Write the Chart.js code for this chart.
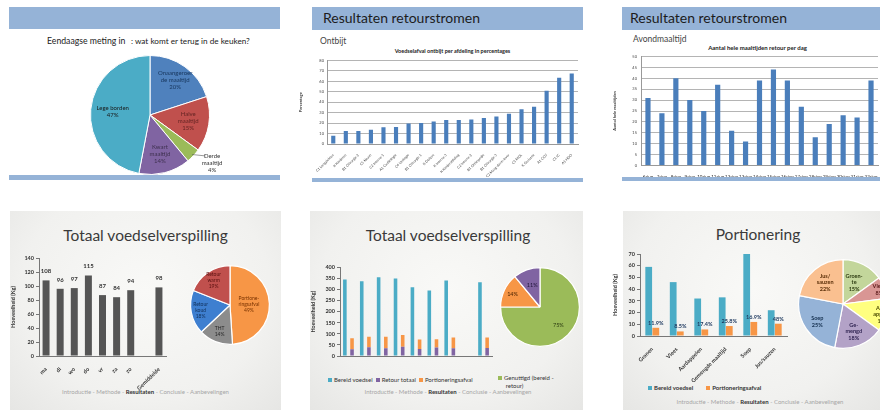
<!DOCTYPE html>
<html lang="nl">
<head>
<meta charset="utf-8">
<script src="https://cdn.jsdelivr.net/npm/chart.js@4.4.1/dist/chart.umd.min.js"></script>
<style>
  html, body { margin: 0; padding: 0; background: #fff; }
  body { width: 880px; height: 410px; position: relative; overflow: hidden; font-family: Lato, "Open Sans", sans-serif; color: #333; }
  canvas { position: absolute; }
  .band { position: absolute; background: #95b3d7; z-index: 2; }
  .slide { position: absolute; background: radial-gradient(ellipse at 50% 40%, #f9f9f7 0%, #f1f1ef 65%, #e6e6e4 100%); }
  .t { position: absolute; white-space: pre; line-height: 1; }
  .c { text-align: center; }
  .head { font-size: 14px; color: #1c1c1c; z-index: 3; }
  .big { font-size: 15.5px; color: #3a3a3a; line-height: 20px; }
  .foot { font-size: 6px; color: #a6a6a6; }
  .foot b { color: #333; }
  .lg { font-size: 6px; color: #333; }
  .sq { display: inline-block; width: 4px; height: 4px; margin-right: 2px; vertical-align: 0; }
</style>
</head>
<body>

<!-- bovenste rij -->
<div class="band" style="left:9px;top:7px;width:271px;height:22px"></div>
<div class="band" style="left:9px;top:175px;width:271px;height:5px"></div>
<div class="t" style="left:47px;top:37px;font-size:8.7px;color:#222">Eendaagse meting in</div>
<div class="t" style="left:131px;top:37px;font-size:8.2px;color:#222">: wat komt er terug in de keuken?</div>

<div class="band" style="left:312px;top:7px;width:271px;height:23px"></div>
<div class="band" style="left:312px;top:178px;width:271px;height:4px"></div>
<div class="t head" style="left:323px;top:11px">Resultaten retourstromen</div>
<div class="t" style="left:320px;top:37px;font-size:8.5px;color:#444">Ontbijt</div>
<div class="t c" style="left:330px;top:49px;width:245px;font-size:5.5px;font-weight:bold;color:#222">Voedselafval ontbijt per afdeling in percentages</div>

<div class="band" style="left:622px;top:7px;width:258px;height:23px"></div>
<div class="band" style="left:622px;top:177px;width:258px;height:4px"></div>
<div class="t head" style="left:630px;top:11px">Resultaten retourstromen</div>
<div class="t" style="left:633px;top:35px;font-size:8.5px;color:#444">Avondmaaltijd</div>
<div class="t c" style="left:680px;top:45px;width:155px;font-size:6px;font-weight:bold;color:#222">Aantal hele maaltijden retour per dag</div>

<!-- onderste rij -->
<div class="slide" style="left:10px;top:211px;width:271px;height:199px"></div>
<div class="slide" style="left:310px;top:211px;width:273px;height:199px"></div>
<div class="slide" style="left:623px;top:211px;width:257px;height:199px"></div>

<div class="t c big" style="left:10px;top:225px;width:271px">Totaal voedselverspilling</div>
<div class="t c big" style="left:312px;top:225px;width:272px">Totaal voedselverspilling</div>
<div class="t c big" style="left:623px;top:224px;width:270px">Portionering</div>

<div class="t c foot" style="left:10px;top:389px;width:271px">Introductie - Methode - <b>Resultaten</b> - Conclusie - Aanbevelingen</div>
<div class="t c foot" style="left:312px;top:389px;width:272px">Introductie - Methode - <b>Resultaten</b> - Conclusie - Aanbevelingen</div>
<div class="t c foot" style="left:623px;top:399px;width:274px">Introductie - Methode - <b>Resultaten</b> - Conclusie - Aanbevelingen</div>

<div class="t lg" style="left:328px;top:377px"><span class="sq" style="background:#4bacc6"></span>Bereid voedsel  <span class="sq" style="background:#8064a2"></span>Retour totaal  <span class="sq" style="background:#f79646"></span>Portioneringsafval</div>
<div class="t lg" style="left:498px;top:374px;line-height:8px"><span class="sq" style="background:#9bbb59"></span>Genuttigd (bereid -
     retour)</div>
<div class="t lg" style="left:648px;top:385px;font-weight:bold"><span class="sq" style="background:#4bacc6"></span>Bereid voedsel         <span class="sq" style="background:#f79646"></span>Portioneringsafval</div>

<canvas id="mealPie" width="170" height="130" style="left:70px;top:45px"></canvas>
<canvas id="breakfast" width="284" height="122" style="left:298px;top:55px"></canvas>
<canvas id="dinner" width="270" height="129" style="left:612px;top:50px"></canvas>
<canvas id="totalBars" width="162" height="145" style="left:10px;top:250px"></canvas>
<canvas id="totalPie" width="84" height="84" style="left:188px;top:263px"></canvas>
<canvas id="flowBars" width="186" height="106" style="left:310px;top:262px"></canvas>
<canvas id="flowPie" width="84" height="84" style="left:498px;top:265px"></canvas>
<canvas id="portionBars" width="180" height="140" style="left:612px;top:248px"></canvas>
<canvas id="portionPie" width="94" height="94" style="left:796px;top:257px"></canvas>

<script>
// Eendaagse meting: wat komt terug in de keuken (%)
const mealLabels = ['Onaangeroerde maaltijd', 'Halve maaltijd', 'Derde maaltijd', 'Kwart maaltijd', 'Lege borden'];
const mealShares = [20, 15, 4, 14, 47];

// Ontbijt: voedselafval per afdeling (%)
const wardLabels = ['C1 Longziekten', 'K Kinderen', 'B1 Chirurgie 2', 'C5 Neuro', 'C2 Interne 1', 'A1 Cardiologie',
  'C4 Urologie', 'B1 Chirurgie 1', 'K Dialyse', 'K Interne 3', 'K Kinderafdeling', 'C2 Interne 2',
  'B1 Orthopedie', 'B1 Chirurgie 3', 'C2 Maag-darm-lever', 'C1 MDL', 'K Geriatrie', 'A1 CCU', 'C1 IC', 'A1 HDO'];
const breakfastWaste = [8, 12.5, 12.5, 13.7, 16, 16.3, 19.5, 20, 21.6, 23, 23, 23.5, 24.8, 26.3, 29, 33.3, 35.6, 51, 63.5, 67.5];
const breakfastTicks = { min: 0, max: 80, step: 10 };

// Avondmaaltijd: hele maaltijden retour per dag
const dayLabels = ['6-jun', '7-jun', '8-jun', '9-jun', '10-jun', '11-jun', '12-jun', '13-jun', '14-jun',
  '15-jun', '16-jun', '17-jun', '18-jun', '19-jun', '20-jun', '21-jun', '22-jun'];
const wholeMeals = [31, 24, 40, 30, 25, 37, 16, 11, 39, 44, 39, 27, 13, 19, 23, 22, 39];
const dinnerTicks = { min: 0, max: 50, step: 5 };

// Totaal voedselverspilling per dag (kg)
const weekLabels = ['ma', 'di', 'wo', 'do', 'vr', 'za', 'zo', '', 'Gemiddelde'];
const totalWaste = [108, 96, 97, 115, 87, 84, 94, null, 98];
const wasteTypes = ['Portioneringsafval', 'THT', 'Retour koud', 'Retour warm'];
const wasteTypeShares = [49, 14, 18, 19];

// Bereid voedsel, retour en portioneringsafval (kg)
const flowLabels = ['ma', 'di', 'wo', 'do', 'vr', 'za', 'zo', '', 'gem.'];
const prepared = [345, 337, 355, 350, 310, 295, 340, null, 333];
const returned = [30, 40, 35, 42, 32, 38, 35, null, 36];
const portionWaste = [50, 47, 52, 53, 42, 37, 48, null, 47];
const usageLabels = ['Genuttigd (bereid - retour)', 'Portioneringsafval', 'Retour totaal'];
const usageShares = [75, 14, 11];

// Portionering per productgroep (kg)
const groupLabels = ['Granen', 'Vlees', 'Aardappelen', 'Gemengde maaltijd', 'Soep', 'Jus/sauzen'];
const groupPrepared = [59, 46, 32, 33, 71, 22];
const groupPortionWaste = [7, 3.9, 5.6, 8.5, 12, 10.5];
const groupWastePct = ['11.9%', '8.5%', '17.4%', '25.8%', '16.9%', '48%'];
const groupPieLabels = ['Groente', 'Vlees', 'Aardappelen', 'Gemengd', 'Soep', 'Jus/sauzen'];
const groupPieShares = [15, 8, 12, 18, 25, 22];

Chart.defaults.font.family = 'Lato, "Open Sans", sans-serif';
Chart.defaults.color = '#333';
Chart.defaults.animation = false;
Chart.defaults.responsive = false;
Chart.defaults.maintainAspectRatio = false;
Chart.defaults.plugins.legend.display = false;
Chart.defaults.plugins.tooltip.enabled = false;

// tekst in (of naast) de taartpunten
function sliceText(cfg) {
  return {
    id: 'sliceText',
    afterDatasetsDraw(chart) {
      const ctx = chart.ctx;
      const values = chart.data.datasets[0].data;
      ctx.save();
      ctx.font = cfg.font;
      ctx.textAlign = 'center';
      ctx.textBaseline = 'middle';
      chart.getDatasetMeta(0).data.forEach((arc, i) => {
        const p = arc.getProps(['x', 'y', 'startAngle', 'endAngle', 'outerRadius'], true);
        const mid = (p.startAngle + p.endAngle) / 2;
        const r = p.outerRadius * cfg.radius[i];
        const shift = (cfg.shift && cfg.shift[i]) || [0, 0];
        const cx = p.x + Math.cos(mid) * r + shift[0];
        const cy = p.y + Math.sin(mid) * r + shift[1];
        const lines = cfg.lines[i].concat(values[i] + '%');
        if (cfg.leader && cfg.leader[i]) {
          ctx.strokeStyle = '#555';
          ctx.lineWidth = 0.6;
          ctx.beginPath();
          ctx.moveTo(p.x + Math.cos(mid) * p.outerRadius * 0.97, p.y + Math.sin(mid) * p.outerRadius * 0.97);
          ctx.lineTo(cx - 7, cy - 7);
          ctx.stroke();
        }
        ctx.fillStyle = cfg.colors[i];
        lines.forEach((t, k) => ctx.fillText(t, cx, cy + (k - (lines.length - 1) / 2) * cfg.lineHeight));
      });
      ctx.restore();
    }
  };
}

// waardelabels boven de staven
function barText(dsIndex, texts, font, color, dy) {
  return {
    id: 'barText',
    afterDatasetsDraw(chart) {
      const ctx = chart.ctx;
      ctx.save();
      ctx.font = font;
      ctx.fillStyle = color;
      ctx.textAlign = 'center';
      ctx.textBaseline = 'bottom';
      chart.getDatasetMeta(dsIndex).data.forEach((bar, i) => {
        if (texts[i] == null) return;
        ctx.fillText(texts[i], bar.x, bar.y + dy);
      });
      ctx.restore();
    }
  };
}

const width = w => s => { s.width = w; };
const height = h => s => { s.height = h; };

new Chart(document.getElementById('mealPie'), {
  type: 'pie',
  data: {
    labels: mealLabels,
    datasets: [{
      data: mealShares,
      backgroundColor: ['#4f81bd', '#c0504d', '#9bbb59', '#8064a2', '#4bacc6'],
      borderColor: '#fff',
      borderWidth: 1
    }]
  },
  options: { layout: { padding: { left: 20, right: 30, top: 10, bottom: 0 } } },
  plugins: [sliceText({
    font: '6px Lato, sans-serif',
    lineHeight: 7,
    lines: [['Onaangeroer', 'de maaltijd'], ['Halve', 'maaltijd'], ['Derde', 'maaltijd'], ['Kwart', 'maaltijd'], ['Lege borden']],
    colors: ['#17365d', '#632423', '#333', '#3f3151', '#1a1a1a'],
    radius: [0.72, 0.65, 1.2, 0.67, 0.63],
    shift: [null, null, [10, -1], null, null],
    leader: [false, false, true, false, false]
  })]
});

new Chart(document.getElementById('breakfast'), {
  type: 'bar',
  data: {
    labels: wardLabels,
    datasets: [{ data: breakfastWaste, backgroundColor: '#4a7ebb', barPercentage: 0.55, categoryPercentage: 0.6 }]
  },
  options: {
    layout: { padding: { top: 5, right: 4 } },
    scales: {
      x: {
        afterFit: height(33),
        grid: { display: false },
        border: { color: '#999' },
        ticks: { autoSkip: false, minRotation: 45, maxRotation: 45, padding: 1, font: { size: 3.5 }, color: '#444' }
      },
      y: {
        min: breakfastTicks.min, max: breakfastTicks.max,
        afterFit: width(29),
        grid: { color: '#b4b4b4', drawTicks: false },
        border: { color: '#999' },
        ticks: { stepSize: breakfastTicks.step, padding: 3, font: { size: 4 }, color: '#444' },
        title: { display: true, text: 'Percentage', font: { size: 4, weight: 'bold' }, padding: 0 }
      }
    }
  }
});

// dagen staan horizontaal, de as krijgt zijn natuurlijke hoogte
new Chart(document.getElementById('dinner'), {
  type: 'bar',
  data: {
    labels: dayLabels,
    datasets: [{ data: wholeMeals, backgroundColor: '#4a7ebb', barPercentage: 0.6, categoryPercentage: 0.62 }]
  },
  options: {
    layout: { padding: { top: 6, right: 4 } },
    scales: {
      x: {
        grid: { display: false },
        border: { color: '#999' },
        ticks: { autoSkip: false, maxRotation: 0, padding: 0, font: { size: 4.5 }, color: '#222' }
      },
      y: {
        min: dinnerTicks.min, max: dinnerTicks.max,
        afterFit: width(29),
        grid: { color: '#b4b4b4', drawTicks: false },
        border: { color: '#999' },
        ticks: { stepSize: dinnerTicks.step, padding: 4, font: { size: 4 }, color: '#444' },
        title: { display: true, text: 'Aantal hele maaltijden', font: { size: 4, weight: 'bold' }, padding: 0 }
      }
    }
  }
});

const darkAxis = { color: '#777' };
const boldTicks = { size: 5.5, weight: 'bold' };

new Chart(document.getElementById('totalBars'), {
  type: 'bar',
  data: {
    labels: weekLabels,
    datasets: [{ data: totalWaste, backgroundColor: '#555', barPercentage: 0.55, categoryPercentage: 0.9 }]
  },
  options: {
    layout: { padding: { top: 8, right: 6 } },
    scales: {
      x: {
        afterFit: height(39),
        grid: { display: false },
        border: darkAxis,
        ticks: { autoSkip: false, minRotation: 45, maxRotation: 45, padding: 2, font: boldTicks, color: '#333' }
      },
      y: {
        min: 0, max: 140,
        afterFit: width(29),
        grid: { drawOnChartArea: false, tickLength: 3, color: '#777' },
        border: darkAxis,
        ticks: { stepSize: 20, padding: 2, font: boldTicks, color: '#333' },
        title: { display: true, text: 'Hoeveelheid (Kg)', font: boldTicks, padding: 0 }
      }
    }
  },
  plugins: [barText(0, totalWaste, 'bold 6px Lato, sans-serif', '#333', -6)]
});

new Chart(document.getElementById('totalPie'), {
  type: 'pie',
  data: {
    labels: wasteTypes,
    datasets: [{
      data: wasteTypeShares,
      backgroundColor: ['#f79646', '#8c8c8c', '#3e7fd0', '#c0504d'],
      borderColor: '#fff',
      borderWidth: 1.2
    }]
  },
  options: { layout: { padding: 2 } },
  plugins: [sliceText({
    font: '5px Lato, sans-serif',
    lineHeight: 6,
    lines: [['Portione-', 'ringsafval'], ['THT'], ['Retour', 'koud'], ['Retour', 'warm']],
    colors: ['#7a3300', '#262626', '#10305a', '#5a1010'],
    radius: [0.48, 0.72, 0.76, 0.74]
  })]
});

new Chart(document.getElementById('flowBars'), {
  type: 'bar',
  data: {
    labels: flowLabels,
    datasets: [
      { label: 'Bereid voedsel', data: prepared, backgroundColor: '#4bacc6', stack: 'bereid' },
      { label: 'Retour totaal', data: returned, backgroundColor: '#8064a2', stack: 'afval' },
      { label: 'Portioneringsafval', data: portionWaste, backgroundColor: '#f79646', stack: 'afval' }
    ]
  },
  options: {
    layout: { padding: { top: 5, right: 4 } },
    datasets: { bar: { barPercentage: 0.5, categoryPercentage: 0.85 } },
    scales: {
      x: {
        stacked: true,
        afterFit: height(12),
        grid: { display: false },
        border: darkAxis,
        ticks: { autoSkip: false, maxRotation: 0, padding: 3, font: boldTicks, color: '#333' }
      },
      y: {
        stacked: true,
        min: 0, max: 400,
        afterFit: width(30),
        grid: { drawOnChartArea: false, tickLength: 3, color: '#777' },
        border: darkAxis,
        ticks: { stepSize: 50, padding: 2, font: boldTicks, color: '#333' },
        title: { display: true, text: 'Hoeveelheid (Kg)', font: boldTicks, padding: 0 }
      }
    }
  }
});

new Chart(document.getElementById('flowPie'), {
  type: 'pie',
  data: {
    labels: usageLabels,
    datasets: [{
      data: usageShares,
      backgroundColor: ['#9bbb59', '#f79646', '#8064a2'],
      borderColor: '#fff',
      borderWidth: 1.2
    }]
  },
  options: { layout: { padding: 2 } },
  plugins: [sliceText({
    font: '5.5px Lato, sans-serif',
    lineHeight: 6,
    lines: [[], [], []],
    colors: ['#2a3a10', '#4a2200', '#20163a'],
    radius: [0.66, 0.77, 0.58]
  })]
});

new Chart(document.getElementById('portionBars'), {
  type: 'bar',
  data: {
    labels: groupLabels,
    datasets: [
      { label: 'Bereid voedsel', data: groupPrepared, backgroundColor: '#4bacc6' },
      { label: 'Portioneringsafval', data: groupPortionWaste, backgroundColor: '#f79646' }
    ]
  },
  options: {
    layout: { padding: { top: 6, right: 5 } },
    datasets: { bar: { barPercentage: 0.95, categoryPercentage: 0.58 } },
    scales: {
      x: {
        afterFit: height(52),
        grid: { display: false },
        border: darkAxis,
        ticks: { autoSkip: false, minRotation: 45, maxRotation: 45, padding: 2, font: boldTicks, color: '#333' }
      },
      y: {
        min: 0, max: 70,
        afterFit: width(28),
        grid: { drawOnChartArea: false, tickLength: 3, color: '#777' },
        border: darkAxis,
        ticks: { stepSize: 10, padding: 2, font: boldTicks, color: '#333' },
        title: { display: true, text: 'Hoeveelheid (Kg)', font: boldTicks, padding: 0 }
      }
    }
  },
  plugins: [barText(1, groupWastePct, 'bold 5.5px Lato, sans-serif', '#1f3a60', -2)]
});

new Chart(document.getElementById('portionPie'), {
  type: 'pie',
  data: {
    labels: groupPieLabels,
    datasets: [{
      data: groupPieShares,
      backgroundColor: ['#c3d69b', '#d99694', '#ffff80', '#b3a2c7', '#95b3d7', '#fac090'],
      borderColor: '#fff',
      borderWidth: 1.2
    }]
  },
  options: { layout: { padding: 2 } },
  plugins: [sliceText({
    font: 'bold 5.5px Lato, sans-serif',
    lineHeight: 6.5,
    lines: [['Groen-', 'te'], ['Vlees'], ['Aard-', 'appelen'], ['Ge-', 'mengd'], ['Soep'], ['Jus/', 'sauzen']],
    colors: ['#2e3d12', '#5a1a1a', '#4a4a00', '#2e2250', '#15304f', '#5a2e08'],
    radius: [0.55, 0.88, 0.93, 0.66, 0.7, 0.63]
  })]
});
</script>
</body>
</html>
